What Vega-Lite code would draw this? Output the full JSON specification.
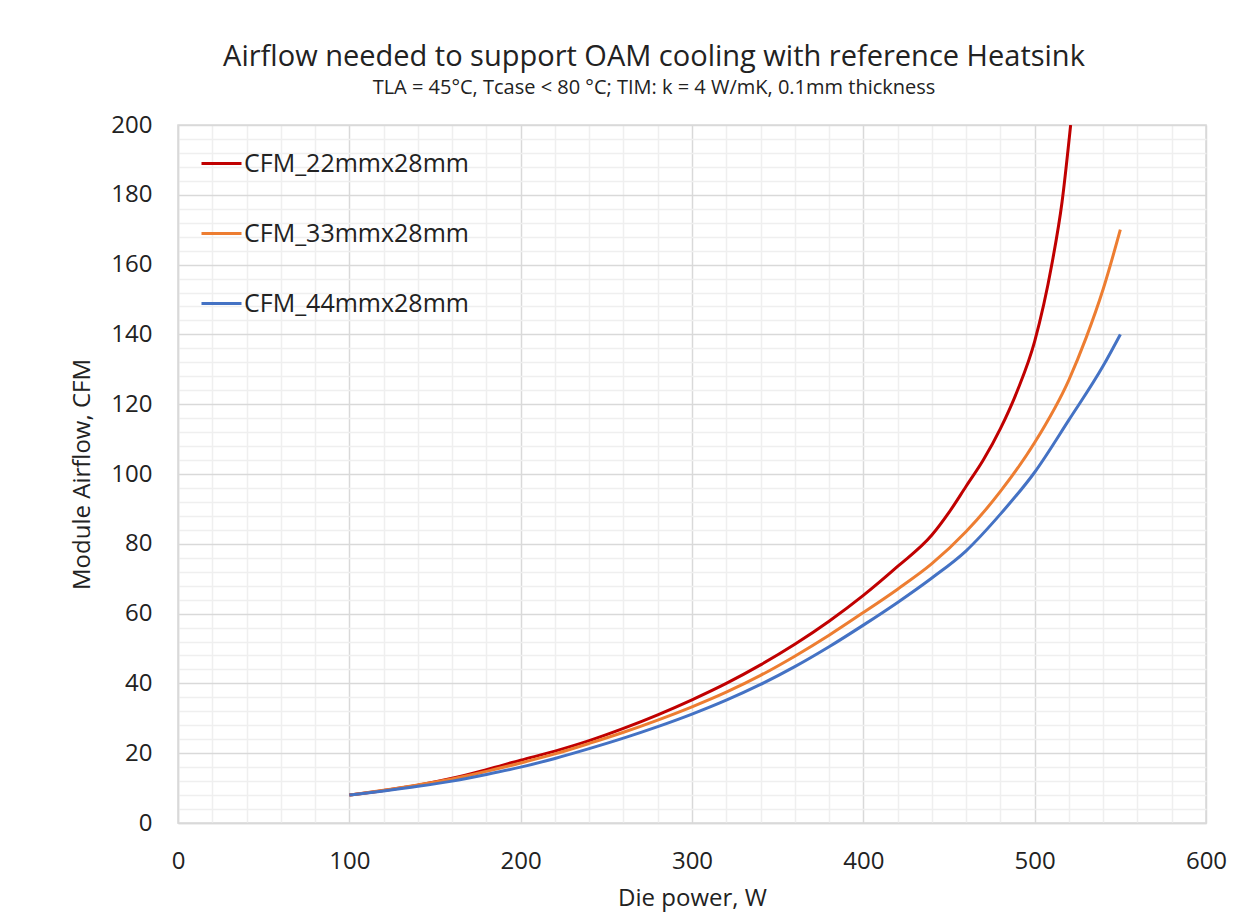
{
  "$schema": "https://vega.github.io/schema/vega-lite/v6.json",
  "autosize": "none",
  "width": 1028,
  "height": 698,
  "padding": {"left": 178, "top": 125, "right": 44, "bottom": 93},
  "background": "white",
  "config": {
    "font": "Open Sans",
    "view": {"stroke": "#d9d9d9", "strokeWidth": 1.5}
  },
  "title": {
    "text": "Airflow needed to support OAM cooling with reference Heatsink",
    "subtitle": "TLA = 45°C, Tcase < 80 °C; TIM: k = 4 W/mK, 0.1mm thickness",
    "anchor": "middle",
    "dx": -38,
    "font": "Open Sans",
    "fontSize": 29,
    "fontWeight": "normal",
    "color": "#222222",
    "subtitleFont": "Open Sans",
    "subtitleFontSize": 20,
    "subtitleColor": "#222222",
    "subtitlePadding": 6,
    "offset": 15
  },
  "data": {
    "values": [
      {"power": 100, "cfm": 8, "series": "CFM_22mmx28mm"},
      {"power": 120, "cfm": 9.3, "series": "CFM_22mmx28mm"},
      {"power": 140, "cfm": 10.8, "series": "CFM_22mmx28mm"},
      {"power": 160, "cfm": 12.8, "series": "CFM_22mmx28mm"},
      {"power": 180, "cfm": 15.3, "series": "CFM_22mmx28mm"},
      {"power": 200, "cfm": 18, "series": "CFM_22mmx28mm"},
      {"power": 220, "cfm": 20.6, "series": "CFM_22mmx28mm"},
      {"power": 240, "cfm": 23.6, "series": "CFM_22mmx28mm"},
      {"power": 260, "cfm": 27.1, "series": "CFM_22mmx28mm"},
      {"power": 280, "cfm": 31, "series": "CFM_22mmx28mm"},
      {"power": 300, "cfm": 35.3, "series": "CFM_22mmx28mm"},
      {"power": 320, "cfm": 40, "series": "CFM_22mmx28mm"},
      {"power": 340, "cfm": 45.3, "series": "CFM_22mmx28mm"},
      {"power": 360, "cfm": 51.2, "series": "CFM_22mmx28mm"},
      {"power": 380, "cfm": 57.8, "series": "CFM_22mmx28mm"},
      {"power": 400, "cfm": 65.2, "series": "CFM_22mmx28mm"},
      {"power": 420, "cfm": 73.5, "series": "CFM_22mmx28mm"},
      {"power": 440, "cfm": 82.5, "series": "CFM_22mmx28mm"},
      {"power": 450, "cfm": 89, "series": "CFM_22mmx28mm"},
      {"power": 460, "cfm": 96.5, "series": "CFM_22mmx28mm"},
      {"power": 470, "cfm": 104, "series": "CFM_22mmx28mm"},
      {"power": 480, "cfm": 113, "series": "CFM_22mmx28mm"},
      {"power": 490, "cfm": 124, "series": "CFM_22mmx28mm"},
      {"power": 500, "cfm": 138, "series": "CFM_22mmx28mm"},
      {"power": 510, "cfm": 160, "series": "CFM_22mmx28mm"},
      {"power": 516, "cfm": 178, "series": "CFM_22mmx28mm"},
      {"power": 521, "cfm": 200, "series": "CFM_22mmx28mm"},
      {"power": 100, "cfm": 8, "series": "CFM_33mmx28mm"},
      {"power": 120, "cfm": 9.4, "series": "CFM_33mmx28mm"},
      {"power": 140, "cfm": 10.9, "series": "CFM_33mmx28mm"},
      {"power": 160, "cfm": 12.6, "series": "CFM_33mmx28mm"},
      {"power": 180, "cfm": 14.8, "series": "CFM_33mmx28mm"},
      {"power": 200, "cfm": 17.2, "series": "CFM_33mmx28mm"},
      {"power": 220, "cfm": 19.8, "series": "CFM_33mmx28mm"},
      {"power": 240, "cfm": 22.8, "series": "CFM_33mmx28mm"},
      {"power": 260, "cfm": 26, "series": "CFM_33mmx28mm"},
      {"power": 280, "cfm": 29.5, "series": "CFM_33mmx28mm"},
      {"power": 300, "cfm": 33.3, "series": "CFM_33mmx28mm"},
      {"power": 320, "cfm": 37.5, "series": "CFM_33mmx28mm"},
      {"power": 340, "cfm": 42.3, "series": "CFM_33mmx28mm"},
      {"power": 360, "cfm": 47.8, "series": "CFM_33mmx28mm"},
      {"power": 380, "cfm": 53.8, "series": "CFM_33mmx28mm"},
      {"power": 400, "cfm": 60.3, "series": "CFM_33mmx28mm"},
      {"power": 420, "cfm": 67, "series": "CFM_33mmx28mm"},
      {"power": 440, "cfm": 74.3, "series": "CFM_33mmx28mm"},
      {"power": 460, "cfm": 83.5, "series": "CFM_33mmx28mm"},
      {"power": 480, "cfm": 95, "series": "CFM_33mmx28mm"},
      {"power": 500, "cfm": 109, "series": "CFM_33mmx28mm"},
      {"power": 520, "cfm": 127, "series": "CFM_33mmx28mm"},
      {"power": 530, "cfm": 139, "series": "CFM_33mmx28mm"},
      {"power": 540, "cfm": 153, "series": "CFM_33mmx28mm"},
      {"power": 550, "cfm": 170, "series": "CFM_33mmx28mm"},
      {"power": 100, "cfm": 8, "series": "CFM_44mmx28mm"},
      {"power": 120, "cfm": 9.2, "series": "CFM_44mmx28mm"},
      {"power": 140, "cfm": 10.5, "series": "CFM_44mmx28mm"},
      {"power": 160, "cfm": 12, "series": "CFM_44mmx28mm"},
      {"power": 180, "cfm": 13.9, "series": "CFM_44mmx28mm"},
      {"power": 200, "cfm": 16, "series": "CFM_44mmx28mm"},
      {"power": 220, "cfm": 18.5, "series": "CFM_44mmx28mm"},
      {"power": 240, "cfm": 21.3, "series": "CFM_44mmx28mm"},
      {"power": 260, "cfm": 24.3, "series": "CFM_44mmx28mm"},
      {"power": 280, "cfm": 27.6, "series": "CFM_44mmx28mm"},
      {"power": 300, "cfm": 31.2, "series": "CFM_44mmx28mm"},
      {"power": 320, "cfm": 35.2, "series": "CFM_44mmx28mm"},
      {"power": 340, "cfm": 39.7, "series": "CFM_44mmx28mm"},
      {"power": 360, "cfm": 44.8, "series": "CFM_44mmx28mm"},
      {"power": 380, "cfm": 50.5, "series": "CFM_44mmx28mm"},
      {"power": 400, "cfm": 56.7, "series": "CFM_44mmx28mm"},
      {"power": 420, "cfm": 63.2, "series": "CFM_44mmx28mm"},
      {"power": 440, "cfm": 70.2, "series": "CFM_44mmx28mm"},
      {"power": 460, "cfm": 78, "series": "CFM_44mmx28mm"},
      {"power": 480, "cfm": 88.5, "series": "CFM_44mmx28mm"},
      {"power": 500, "cfm": 100.5, "series": "CFM_44mmx28mm"},
      {"power": 520, "cfm": 115.5, "series": "CFM_44mmx28mm"},
      {"power": 540, "cfm": 131, "series": "CFM_44mmx28mm"},
      {"power": 550, "cfm": 140, "series": "CFM_44mmx28mm"}
    ]
  },
  "mark": {"type": "line", "interpolate": "monotone", "strokeWidth": 3, "clip": true},
  "encoding": {
    "x": {
      "field": "power",
      "type": "quantitative",
      "scale": {"domain": [0, 600], "nice": false},
      "axis": {
        "title": "Die power, W",
        "titleFont": "Open Sans",
        "titleFontSize": 24,
        "titleFontWeight": "normal",
        "titleColor": "#222222",
        "titlePadding": 13,
        "values": [0, 20, 40, 60, 80, 100, 120, 140, 160, 180, 200, 220, 240, 260, 280, 300, 320, 340, 360, 380, 400, 420, 440, 460, 480, 500, 520, 540, 560, 580, 600],
        "labelExpr": "datum.value % 100 === 0 ? datum.label : ''",
        "labelFont": "Open Sans",
        "labelFontSize": 24,
        "labelColor": "#222222",
        "labelPadding": 26,
        "labelFlush": false,
        "labelOverlap": false,
        "ticks": false,
        "domainColor": "#d9d9d9",
        "domainWidth": 1.5,
        "grid": true,
        "gridColor": {"condition": {"test": "datum.value % 100 === 0", "value": "#d9d9d9"}, "value": "#efefef"},
        "gridWidth": 1.5
      }
    },
    "y": {
      "field": "cfm",
      "type": "quantitative",
      "scale": {"domain": [0, 200], "nice": false},
      "axis": {
        "title": "Module Airflow, CFM",
        "titleFont": "Open Sans",
        "titleFontSize": 24,
        "titleFontWeight": "normal",
        "titleColor": "#222222",
        "titlePadding": 16,
        "values": [0, 4, 8, 12, 16, 20, 24, 28, 32, 36, 40, 44, 48, 52, 56, 60, 64, 68, 72, 76, 80, 84, 88, 92, 96, 100, 104, 108, 112, 116, 120, 124, 128, 132, 136, 140, 144, 148, 152, 156, 160, 164, 168, 172, 176, 180, 184, 188, 192, 196, 200],
        "labelExpr": "datum.value % 20 === 0 ? datum.label : ''",
        "labelFont": "Open Sans",
        "labelFontSize": 24,
        "labelColor": "#222222",
        "labelPadding": 26,
        "labelFlush": false,
        "labelOverlap": false,
        "ticks": false,
        "domainColor": "#d9d9d9",
        "domainWidth": 1.5,
        "grid": true,
        "gridColor": {"condition": {"test": "datum.value % 20 === 0", "value": "#d9d9d9"}, "value": "#efefef"},
        "gridWidth": 1.5
      }
    },
    "color": {
      "field": "series",
      "type": "nominal",
      "scale": {"domain": ["CFM_22mmx28mm", "CFM_33mmx28mm", "CFM_44mmx28mm"], "range": ["#C00000", "#ED7D31", "#4472C4"]},
      "legend": {
        "title": null,
        "orient": "none",
        "legendX": 22,
        "legendY": 17,
        "symbolType": "stroke",
        "symbolSize": 1600,
        "symbolStrokeWidth": 3,
        "labelFont": "Open Sans",
        "labelFontSize": 25,
        "labelColor": "#222222",
        "labelOffset": 1,
        "rowPadding": 35,
        "labelLimit": 400
      }
    }
  }
}
